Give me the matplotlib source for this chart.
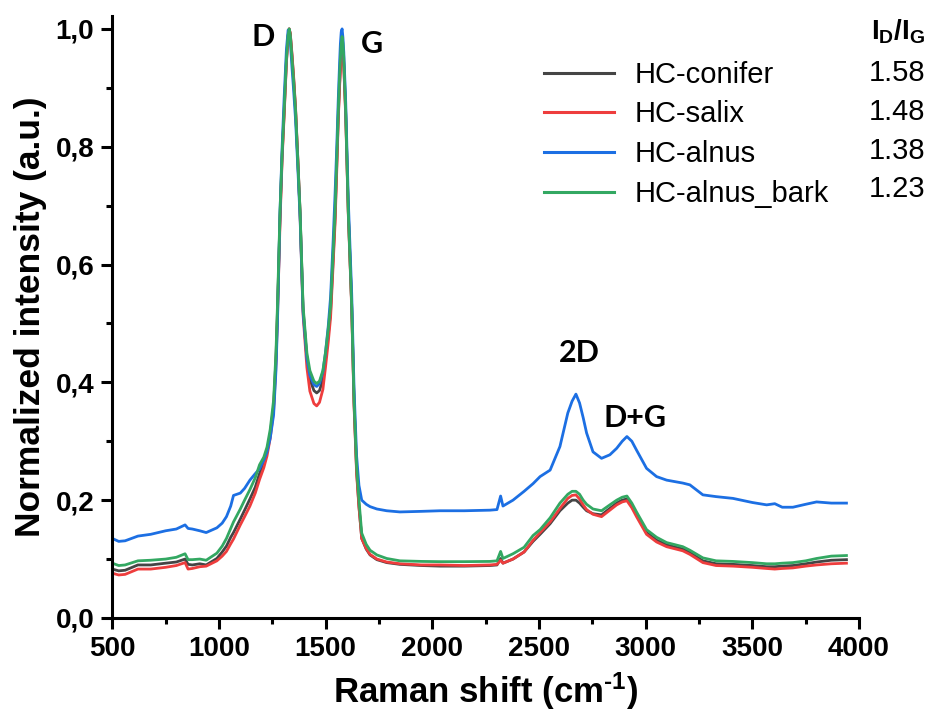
import matplotlib
matplotlib.use("Agg")
import matplotlib.pyplot as plt
from matplotlib.ticker import MultipleLocator

plt.rcParams["font.family"] = ["Liberation Sans", "DejaVu Sans"]
plt.rcParams["mathtext.fontset"] = "custom"
plt.rcParams["mathtext.rm"] = "Liberation Sans:bold"
plt.rcParams["mathtext.it"] = "Liberation Sans:bold"
plt.rcParams["mathtext.bf"] = "Liberation Sans:bold"
plt.rcParams["mathtext.default"] = "rm"

# Raman shift grid (cm-1)
raman_shift = [
    500, 530, 560, 620, 680, 750, 800, 841, 855, 875, 910, 940, 990, 1015, 1035,
    1055, 1068, 1100, 1120, 1145, 1170, 1190, 1210, 1225, 1240, 1256, 1267, 1274,
    1286, 1296, 1305, 1316, 1324, 1329, 1334, 1342, 1350, 1359, 1370, 1380, 1394,
    1412, 1426, 1445, 1458, 1471, 1487, 1499, 1512, 1523, 1535, 1544, 1552, 1559,
    1565, 1569, 1573, 1577, 1581, 1585, 1594, 1606, 1622, 1633, 1645, 1656, 1669,
    1690, 1708, 1740, 1786, 1848, 1950, 2036, 2150, 2270, 2303, 2320, 2331, 2378,
    2430, 2472, 2505, 2552, 2598, 2635, 2655, 2673, 2690, 2707, 2723, 2753, 2793,
    2832, 2864, 2890, 2912, 2935, 2957, 3004, 3051, 3098, 3174, 3207, 3268, 3330,
    3409, 3500, 3567, 3605, 3640, 3690, 3750, 3801, 3870, 3941,
]

hc_conifer = [
    0.083, 0.080, 0.081, 0.090, 0.090, 0.093, 0.095, 0.100, 0.091, 0.090, 0.092,
    0.090, 0.101, 0.112, 0.122, 0.137, 0.145, 0.168, 0.183, 0.202, 0.222, 0.245,
    0.262, 0.282, 0.312, 0.360, 0.440, 0.520, 0.680, 0.785, 0.855, 0.945, 0.988,
    1.000, 0.992, 0.955, 0.915, 0.862, 0.775, 0.690, 0.525, 0.440, 0.405, 0.386,
    0.382, 0.386, 0.405, 0.440, 0.480, 0.520, 0.610, 0.680, 0.770, 0.850, 0.905,
    0.935, 0.958, 0.970, 0.962, 0.940, 0.855, 0.690, 0.530, 0.365, 0.250, 0.190,
    0.135, 0.117, 0.107, 0.099, 0.094, 0.091, 0.089, 0.088, 0.088, 0.089, 0.090,
    0.101, 0.093, 0.100, 0.112, 0.130, 0.142, 0.160, 0.182, 0.195, 0.200, 0.200,
    0.195, 0.188, 0.182, 0.177, 0.175, 0.186, 0.195, 0.200, 0.202, 0.190, 0.175,
    0.145, 0.132, 0.124, 0.117, 0.111, 0.097, 0.092, 0.091, 0.089, 0.087, 0.087,
    0.088, 0.089, 0.092, 0.095, 0.098, 0.099,
]

hc_salix = [
    0.076, 0.073, 0.074, 0.083, 0.083, 0.086, 0.089, 0.094, 0.083, 0.084, 0.087,
    0.088, 0.097, 0.105, 0.113, 0.126, 0.134, 0.158, 0.172, 0.190, 0.212, 0.235,
    0.255, 0.275, 0.305, 0.352, 0.430, 0.510, 0.670, 0.780, 0.850, 0.942, 0.987,
    1.000, 0.993, 0.958, 0.918, 0.865, 0.775, 0.685, 0.515, 0.425, 0.385, 0.364,
    0.360, 0.366, 0.388, 0.425, 0.468, 0.510, 0.600, 0.670, 0.760, 0.845, 0.900,
    0.930, 0.950, 0.962, 0.955, 0.935, 0.850, 0.685, 0.525, 0.360, 0.245, 0.188,
    0.135, 0.118, 0.108, 0.100, 0.095, 0.092, 0.090, 0.090, 0.089, 0.090, 0.091,
    0.098, 0.093, 0.100, 0.112, 0.132, 0.145, 0.163, 0.186, 0.203, 0.208, 0.209,
    0.202, 0.192, 0.184, 0.176, 0.172, 0.183, 0.192, 0.197, 0.199, 0.187, 0.172,
    0.142, 0.129, 0.121, 0.114, 0.108, 0.094, 0.089, 0.088, 0.086, 0.084, 0.083,
    0.084, 0.085, 0.088, 0.090, 0.092, 0.093,
]

hc_alnus = [
    0.135, 0.130, 0.131, 0.139, 0.142, 0.148, 0.151, 0.158, 0.152, 0.151, 0.148,
    0.145, 0.153, 0.161, 0.172, 0.190, 0.208, 0.212, 0.220, 0.234, 0.245, 0.253,
    0.268, 0.282, 0.305, 0.345, 0.420, 0.500, 0.690, 0.800, 0.880, 0.965, 0.998,
    0.995, 0.980, 0.935, 0.895, 0.845, 0.760, 0.680, 0.520, 0.440, 0.412, 0.396,
    0.393, 0.398, 0.418, 0.450, 0.495, 0.545, 0.640, 0.720, 0.800, 0.880, 0.940,
    0.975, 0.995, 1.000, 0.985, 0.960, 0.875, 0.710, 0.550, 0.390, 0.275, 0.225,
    0.200, 0.193, 0.189, 0.185, 0.182, 0.180, 0.181, 0.182, 0.182, 0.183, 0.184,
    0.207, 0.190, 0.200, 0.215, 0.228, 0.240, 0.251, 0.291, 0.348, 0.368, 0.380,
    0.365, 0.340, 0.314, 0.282, 0.271, 0.277, 0.288, 0.300, 0.308, 0.300, 0.285,
    0.254, 0.240, 0.234, 0.229, 0.226, 0.209, 0.206, 0.203, 0.196, 0.192, 0.194,
    0.188, 0.188, 0.193, 0.197, 0.195, 0.195,
]

hc_alnus_bark = [
    0.093, 0.089, 0.090, 0.097, 0.098, 0.100, 0.103, 0.109, 0.099, 0.099, 0.100,
    0.098, 0.110, 0.122, 0.135, 0.152, 0.163, 0.185, 0.200, 0.218, 0.238, 0.260,
    0.273, 0.290, 0.320, 0.370, 0.450, 0.530, 0.690, 0.790, 0.860, 0.950, 0.990,
    1.000, 0.990, 0.950, 0.910, 0.860, 0.770, 0.690, 0.530, 0.450, 0.420, 0.402,
    0.398, 0.402, 0.420, 0.450, 0.490, 0.530, 0.620, 0.690, 0.780, 0.860, 0.920,
    0.950, 0.975, 0.987, 0.975, 0.950, 0.860, 0.690, 0.530, 0.370, 0.257, 0.200,
    0.144, 0.125, 0.115, 0.107, 0.101, 0.097, 0.096, 0.0956, 0.0956, 0.096, 0.097,
    0.113, 0.101, 0.109, 0.120, 0.140, 0.150, 0.170, 0.195, 0.210, 0.215, 0.215,
    0.210, 0.200, 0.193, 0.185, 0.182, 0.192, 0.200, 0.205, 0.207, 0.195, 0.180,
    0.150, 0.137, 0.128, 0.121, 0.115, 0.102, 0.097, 0.096, 0.094, 0.092, 0.092,
    0.093, 0.094, 0.097, 0.101, 0.105, 0.106,
]

sample_names = ["HC-conifer", "HC-salix", "HC-alnus", "HC-alnus_bark"]
id_ig_ratios = ["1.58", "1.48", "1.38", "1.23"]
line_colors = ["#454545", "#ee3d3d", "#1c6fe3", "#33a862"]

band_labels = ["D", "G", "2D", "D+G"]
band_positions = [(1206, 0.986), (1717, 0.975), (2687, 0.449), (2949, 0.340)]

fig = plt.figure(figsize=(9.29, 7.21), dpi=100)
ax = fig.add_axes([0.1209, 0.1429, 0.8038, 0.8350])

handles = []
for ys, name, col in zip([hc_conifer, hc_salix, hc_alnus, hc_alnus_bark],
                         sample_names, line_colors):
    h, = ax.plot(raman_shift, ys, color=col, lw=2.0, label=name,
                 solid_joinstyle="round")
    handles.append(h)

ax.set_xlim(500, 4000)
ax.set_ylim(0, 1.022)
ax.xaxis.set_major_locator(MultipleLocator(500))
ax.xaxis.set_minor_locator(MultipleLocator(250))
ax.yaxis.set_minor_locator(MultipleLocator(0.1))
ax.set_yticks([0.0, 0.2, 0.4, 0.6, 0.8, 1.0])
ax.set_yticklabels(["0,0", "0,2", "0,4", "0,6", "0,8", "1,0"])

for s in ["top", "right"]:
    ax.spines[s].set_visible(False)
for s in ["left", "bottom"]:
    ax.spines[s].set_linewidth(2.2)

ax.tick_params(axis="both", which="major", direction="out", length=8, width=2.2,
               labelsize=20, pad=5)
ax.tick_params(axis="both", which="minor", direction="out", length=4.5, width=2.2)
for lab in ax.get_xticklabels() + ax.get_yticklabels():
    lab.set_fontweight("bold")

ax.set_xlabel(r"Raman shift (cm$^{\text{-1}}$)", fontsize=25, fontweight="bold",
              labelpad=6)
ax.set_ylabel("Normalized intensity (a.u.)", fontsize=25.5, fontweight="bold",
              labelpad=6)

for txt, (bx, by) in zip(band_labels, band_positions):
    ax.text(bx, by, txt, fontsize=22, fontweight="bold", family=["Lato", "DejaVu Sans"],
            ha="center", va="center")

leg = ax.legend(handles=handles, labels=sample_names, loc="upper left",
                bbox_to_anchor=(0.5627, 0.945), frameon=False, fontsize=21,
                handlelength=2.4, handletextpad=0.7, labelspacing=0.4,
                borderaxespad=0.0)
for ln in leg.get_lines():
    ln.set_linewidth(2.2)

fig.text(925 / 929, 1 - 32 / 721, "I$_D$/I$_G$", fontsize=20, fontweight="bold",
         ha="right", va="center")
row_y = [73, 112, 151, 189]
for r, yy in zip(id_ig_ratios, row_y):
    fig.text(925 / 929, 1 - yy / 721, r, fontsize=21, ha="right", va="center")

fig.savefig("out.png", dpi=100)
